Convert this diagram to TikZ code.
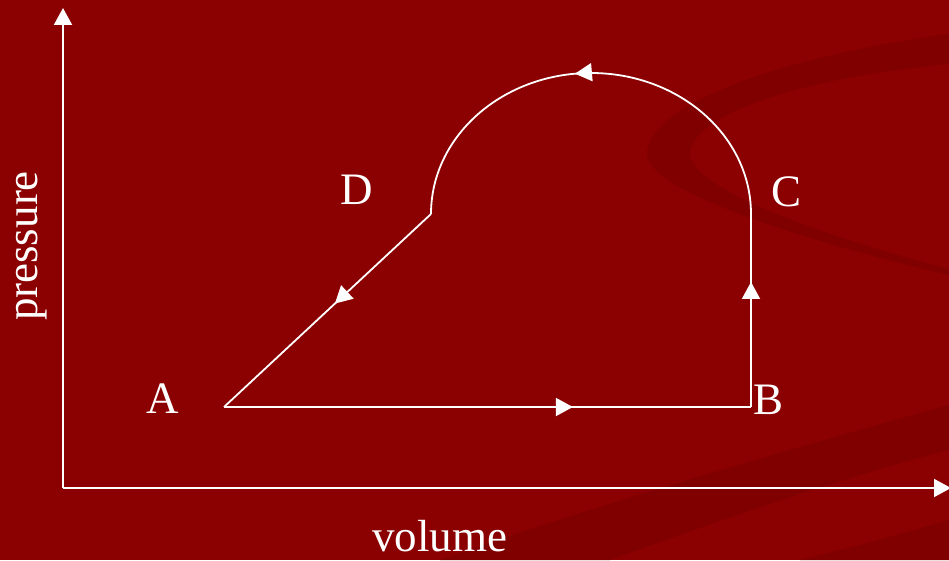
\documentclass[tikz,border=0pt]{standalone}
\usepackage{fontspec}
\setmainfont{Liberation Serif}
\usetikzlibrary{arrows.meta,decorations.markings}
\definecolor{bg}{RGB}{139,0,0}
\definecolor{swirl}{RGB}{128,0,0}
\begin{document}
\begin{tikzpicture}[x=1pt,y=1pt,
  axisline/.style={white,line width=2pt,-{Triangle[length=17pt,width=18pt]}},
  cycline/.style={white,line width=1.8pt},
  midarrow/.style={postaction={decorate},decoration={markings,mark=at position #1 with {\arrow{Triangle[length=17pt,width=18pt]}}}},
  lbl/.style={text=white,inner sep=0pt,anchor=base,font=\fontsize{45}{50}\selectfont}]
\fill[bg] (0,0) rectangle (949,560);
\useasboundingbox (0,0) rectangle (949,560);
% background swirls
\fill[swirl] (949,526) .. controls (760,500) and (647,450) .. (647,406)
  .. controls (647,370) and (800,320) .. (949,285) -- (949,291)
  .. controls (800,330) and (690,375) .. (690,406)
  .. controls (690,440) and (780,480) .. (949,496) -- cycle;
\fill[swirl] (949,155) .. controls (750,100) and (550,40) .. (440,0) -- (610,0)
  .. controls (720,40) and (850,85) .. (949,110) -- cycle;
\fill[swirl] (949,40) .. controls (880,20) .. (800,0) -- (949,0) -- cycle;
% axes
\coordinate (O) at (63,72);
\coordinate (Ytop) at (63,552);
\coordinate (Xend) at (951,72);
\draw[axisline] (O) -- (Ytop);
\draw[axisline] (O) -- (Xend);
% cycle points
\coordinate (pA) at (224,153);
\coordinate (pB) at (751,153);
\coordinate (pC) at (751,346);
\coordinate (pD) at (431,346);
\draw[cycline,midarrow=0.662] (pA) -- (pB);
\draw[cycline,midarrow=0.648] (pB) -- (pC);
\draw[cycline,midarrow=0.534] (pC) arc[start angle=0,end angle=180,x radius=160,y radius=141];
\draw[cycline,midarrow=0.464] (pD) -- (pA);
% labels
\node[lbl] (lA) at (162.5,147) {A};
\node[lbl] (lB) at (768.5,146) {B};
\node[lbl] (lC) at (786,353) {C};
\node[lbl] (lD) at (357,355) {D};
\node[lbl] (lvol) at (439.5,9) {volume};
\node[lbl,rotate=90] (lpres) at (37,314) {pressure};
\end{tikzpicture}
\end{document}
